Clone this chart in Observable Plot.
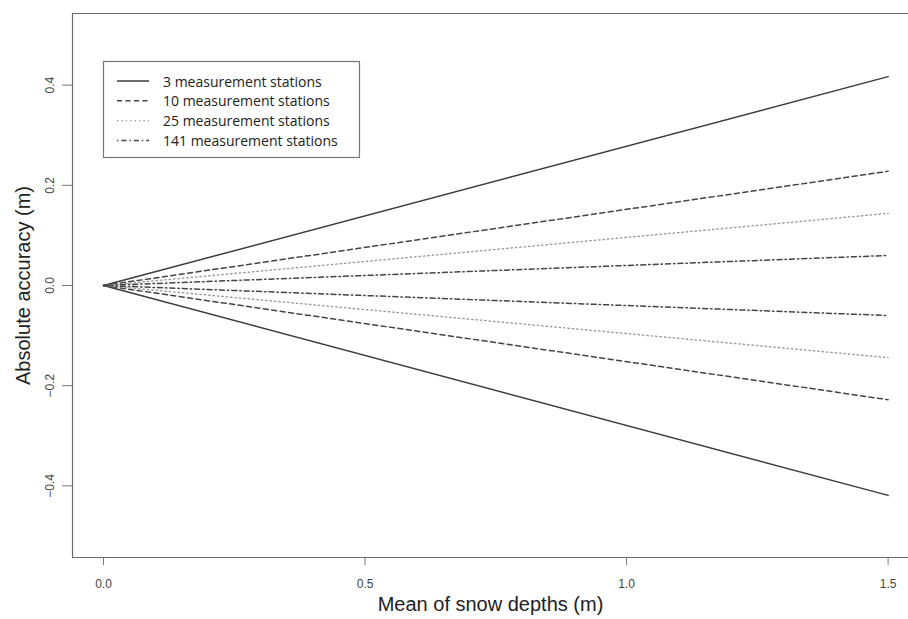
<!DOCTYPE html>
<html>
<head>
<meta charset="utf-8">
<script src="https://cdn.jsdelivr.net/npm/d3@7"></script>
<script src="https://cdn.jsdelivr.net/npm/@observablehq/plot@0.6"></script>
<style>
  body { margin: 0; background: #fff; }
  #chart { width: 908px; height: 619px; overflow: hidden; }
</style>
</head>
<body>
<div id="chart"></div>
<script>
// ---- data ----
const stations = [3, 10, 25, 141];
const seriesNames = ["3 measurement stations", "10 measurement stations", "25 measurement stations", "141 measurement stations"];
const xValues = [0, 1.5];                       // mean of snow depths (m)
const upperValues = [[0, 0.417], [0, 0.228], [0, 0.144], [0, 0.060]];
const lowerValues = [[0, -0.419], [0, -0.228], [0, -0.144], [0, -0.060]];
const xTicks = [0, 0.5, 1.0, 1.5];
const yTicks = [-0.4, -0.2, 0, 0.2, 0.4];
const xDomain = [-0.0593, 1.539];
const yDomain = [-0.543, 0.543];

// ---- styles ----
const styles = [
  {stroke: "#3c3c3c", strokeWidth: 1.5, dash: null},
  {stroke: "#444", strokeWidth: 1.5, dash: "5,3.5"},
  {stroke: "#9a9a9a", strokeWidth: 1.4, dash: "1.4,3"},
  {stroke: "#444", strokeWidth: 1.5, dash: "1.4,3,5,3"}
];

const rows = [];
stations.forEach((s, i) => {
  xValues.forEach((x, j) => rows.push({series: i, bound: "upper", x, y: upperValues[i][j]}));
  xValues.forEach((x, j) => rows.push({series: i, bound: "lower", x, y: lowerValues[i][j]}));
});

const fmt = d3.format(".1f");

const lineMarks = stations.map((s, i) => Plot.line(rows.filter(r => r.series === i), {
  x: "x", y: "y", z: "bound",
  stroke: styles[i].stroke, strokeWidth: styles[i].strokeWidth,
  strokeDasharray: styles[i].dash
}));

const chart = Plot.plot({
  width: 908, height: 619,
  marginLeft: 72, marginRight: 0, marginTop: 13, marginBottom: 62,
  style: {fontFamily: "'Liberation Sans', Arial, sans-serif", fontSize: "12px", color: "#444", background: "#fff"},
  x: {domain: xDomain},
  y: {domain: yDomain},
  marks: [
    Plot.ruleY([yDomain[0], yDomain[1]], {stroke: "#6a6a6a", strokeWidth: 1.2}),
    Plot.ruleX([xDomain[0]], {stroke: "#6a6a6a", strokeWidth: 1.2}),
    ...lineMarks,
    Plot.axisX({ticks: xTicks, tickSize: 8, tickPadding: 14, tickFormat: fmt, label: null, stroke: "#777", fill: "#444", fontSize: 12}),
    Plot.axisY({ticks: yTicks, tickSize: 10, tickFormat: () => "", label: null, stroke: "#777"}),
    Plot.text(yTicks, {y: d => d, text: d => fmt(d), frameAnchor: "left", dx: -22, rotate: -90,
      textAnchor: "middle", lineAnchor: "middle", fill: "#444", fontSize: 12}),
    Plot.text(["Absolute accuracy (m)"], {text: d => d, frameAnchor: "left", dx: -49, rotate: -90,
      textAnchor: "middle", lineAnchor: "middle", fill: "#222", fontSize: 20}),
    Plot.text(["Mean of snow depths (m)"], {text: d => d, frameAnchor: "bottom", dy: 47,
      lineAnchor: "middle", fill: "#222", fontSize: 20})
  ]
});

// ---- legend inside the plot area ----
const g = d3.select(chart).append("g").attr("text-anchor", "start");
const lx = 103, ly = 61, lw = 256, lh = 96;
g.append("rect").attr("x", lx + 0.5).attr("y", ly + 0.5).attr("width", lw).attr("height", lh)
  .attr("fill", "#fff").attr("stroke", "#777").attr("stroke-width", 1.2);
seriesNames.forEach((name, i) => {
  const yy = ly + 20 + i * 19.8;
  g.append("line").attr("x1", lx + 14).attr("x2", lx + 46).attr("y1", yy).attr("y2", yy)
    .attr("stroke", styles[i].stroke).attr("stroke-width", styles[i].strokeWidth)
    .attr("stroke-dasharray", styles[i].dash);
  g.append("text").attr("x", lx + 60).attr("y", yy).attr("dominant-baseline", "central")
    .attr("text-anchor", "start")
    .attr("font-family", "'Open Sans', 'Noto Sans', sans-serif").attr("font-size", 14)
    .attr("fill", "#222").text(name);
});

document.getElementById("chart").appendChild(chart);
</script>
</body>
</html>
